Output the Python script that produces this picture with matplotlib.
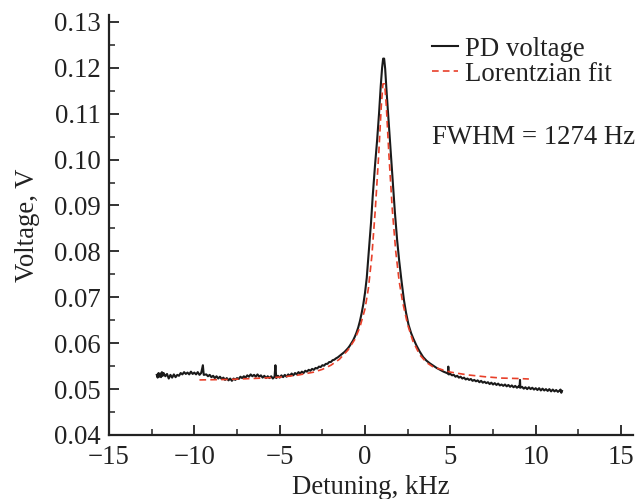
import matplotlib
matplotlib.use("Agg")
import matplotlib.pyplot as plt
from matplotlib.ticker import MultipleLocator, FormatStrFormatter

plt.rcParams['font.family'] = ['Liberation Serif', 'DejaVu Serif']

pd_x = [-12.2, -12.15, -12.1, -12.05, -12.0, -11.95, -11.9, -11.85, -11.8, -11.7, -11.6, -11.5, -11.4,
        -11.3, -11.2, -11.1, -11.0, -10.9, -10.8, -10.7, -10.6, -10.5, -10.4, -10.3, -10.2, -10.1,
        -10.0, -9.9, -9.8, -9.7, -9.6, -9.5, -9.45, -9.3, -9.2, -9.1, -9.0, -8.9, -8.8, -8.7, -8.6,
        -8.5, -8.4, -8.3, -8.2, -8.1, -8.0, -7.9, -7.8, -7.7, -7.6, -7.5, -7.4, -7.3, -7.2, -7.1,
        -7.0, -6.9, -6.8, -6.7, -6.6, -6.5, -6.4, -6.3, -6.2, -6.1, -6.0, -5.9, -5.8, -5.7, -5.6,
        -5.5, -5.4, -5.3, -5.25, -5.2, -5.1, -5.0, -4.9, -4.8, -4.7, -4.6, -4.5, -4.4, -4.3, -4.2,
        -4.1, -4.0, -3.9, -3.8, -3.7, -3.6, -3.5, -3.4, -3.3, -3.2, -3.1, -3.0, -2.9, -2.8, -2.7,
        -2.6, -2.5, -2.4, -2.3, -2.2, -2.1, -2.0, -1.9, -1.8, -1.7, -1.6, -1.5, -1.4, -1.3, -1.2,
        -1.1, -1.0, -0.9, -0.8, -0.7, -0.6, -0.5, -0.4, -0.3, -0.2, -0.1, 0.0, 0.1, 0.24, 0.35,
        0.45, 0.58, 0.71, 0.82, 0.92, 1.0, 1.06, 1.12, 1.18, 1.26, 1.36, 1.5, 1.62, 1.75, 1.88,
        2.0, 2.14, 2.28, 2.4, 2.55, 2.7, 2.83, 3.0, 3.2, 3.4, 3.6, 3.8, 4.0, 4.2, 4.4, 4.6, 4.8,
        4.86, 4.88, 4.9, 5.0, 5.1, 5.2, 5.3, 5.4, 5.5, 5.6, 5.7, 5.8, 5.9, 6.0, 6.1, 6.2, 6.3,
        6.4, 6.5, 6.6, 6.7, 6.8, 6.9, 7.0, 7.1, 7.2, 7.3, 7.4, 7.5, 7.6, 7.7, 7.8, 7.9, 8.0, 8.1,
        8.2, 8.3, 8.4, 8.5, 8.6, 8.7, 8.8, 8.9, 9.0, 9.05, 9.08, 9.1, 9.2, 9.3, 9.4, 9.5, 9.6,
        9.7, 9.8, 9.9, 10.0, 10.1, 10.2, 10.3, 10.4, 10.5, 10.6, 10.7, 10.8, 10.9, 11.0, 11.1,
        11.2, 11.3, 11.4, 11.45, 11.5, 11.54]
pd_y = [0.0531, 0.0525, 0.0535, 0.0527, 0.0534, 0.0526, 0.0537, 0.0529, 0.0535, 0.0528, 0.0533, 0.0523, 0.0531,
        0.0525, 0.0532, 0.0526, 0.0531, 0.0529, 0.0535, 0.0532, 0.0537, 0.0533, 0.0536, 0.0532, 0.0538, 0.0533,
        0.0536, 0.0532, 0.0537, 0.0531, 0.0535, 0.0552, 0.0531, 0.0532, 0.0528, 0.0531, 0.0526, 0.0529, 0.0524, 0.0528, 0.0523,
        0.0527, 0.0522, 0.0525, 0.0520, 0.0524, 0.0519, 0.0523, 0.0518, 0.0523, 0.0520, 0.0524, 0.0522, 0.0527, 0.0524, 0.0528,
        0.0525, 0.0530, 0.0527, 0.0532, 0.0528, 0.0531, 0.0527, 0.0532, 0.0527, 0.0530, 0.0525, 0.0529, 0.0524, 0.0528, 0.0524,
        0.0528, 0.0523, 0.0527, 0.0552, 0.0524, 0.0529, 0.0525, 0.0530, 0.0526, 0.0531, 0.0527, 0.0532, 0.0529, 0.0534, 0.0530,
        0.0535, 0.0532, 0.0537, 0.0534, 0.0538, 0.0535, 0.0540, 0.0538, 0.0542, 0.0540, 0.0544, 0.0542, 0.0546, 0.0545, 0.0549,
        0.0548, 0.0552, 0.0551, 0.0555, 0.0555, 0.0559, 0.0559, 0.0563, 0.0564, 0.0567, 0.0569, 0.0572, 0.0575, 0.0578, 0.0581,
        0.0585, 0.0589, 0.0594, 0.0600, 0.0606, 0.0614, 0.0623, 0.0634, 0.0648, 0.0665, 0.0685, 0.0710, 0.0742, 0.0810, 0.0862,
        0.0920, 0.0985, 0.1043, 0.1100, 0.1160, 0.1200, 0.1220, 0.1220, 0.1198, 0.1150, 0.1095, 0.1020, 0.0955, 0.0885, 0.0825,
        0.0780, 0.0735, 0.0694, 0.0667, 0.0640, 0.0622, 0.0610, 0.0596, 0.0582, 0.0570, 0.0562, 0.0556, 0.0551, 0.0546, 0.0542, 0.0538, 0.0535,
        0.0534, 0.0549, 0.0532, 0.0533, 0.0530, 0.0531, 0.0527, 0.0529, 0.0525, 0.0527, 0.0523, 0.0525, 0.0521, 0.0523, 0.0520, 0.0522, 0.0518,
        0.0520, 0.0517, 0.0519, 0.0515, 0.0518, 0.0514, 0.0516, 0.0513, 0.0515, 0.0511, 0.0514, 0.0510, 0.0513, 0.0509, 0.0512, 0.0508, 0.0510, 0.0507,
        0.0510, 0.0506, 0.0509, 0.0505, 0.0508, 0.0504, 0.0507, 0.0503, 0.0506, 0.0504, 0.0520, 0.0503, 0.0505, 0.0501, 0.0504, 0.0500, 0.0504,
        0.0500, 0.0503, 0.0499, 0.0502, 0.0498, 0.0502, 0.0497, 0.0501, 0.0497, 0.0500, 0.0496, 0.0500, 0.0495, 0.0499, 0.0495,
        0.0498, 0.0494, 0.0497, 0.0499, 0.0492, 0.0496]

# Lorentzian fit
fit_x = [-9.7, -8.0, -6.0, -5.0, -4.0, -3.0, -2.5, -2.0, -1.5, -1.0, -0.6, -0.3, 0.0, 0.2, 0.4, 0.6,
         0.8, 0.95, 1.05, 1.15, 1.25, 1.4, 1.6, 1.8, 2.0, 2.2, 2.5, 2.8, 3.2, 3.6, 4.0, 5.0, 6.0,
         7.0, 8.0, 9.0, 9.6]
fit_y = [0.0520, 0.0521, 0.0524, 0.0526, 0.0530, 0.0537, 0.0543, 0.0552, 0.0565, 0.0585, 0.0608, 0.0635, 0.0675, 0.0720, 0.0790, 0.0890,
         0.1010, 0.1115, 0.1165, 0.1165, 0.1115, 0.1010, 0.0890, 0.0800, 0.0735, 0.0690, 0.0640, 0.0605, 0.0575, 0.0558, 0.0548, 0.0537, 0.0531,
         0.0527, 0.0524, 0.0523, 0.0522]

x_ticks = [-15, -10, -5, 0, 5, 10, 15]
y_ticks = [0.04, 0.05, 0.06, 0.07, 0.08, 0.09, 0.10, 0.11, 0.12, 0.13]

FS = 19.3
INK = '#222222'

fig = plt.figure(figsize=(6.35, 4.99), dpi=100)
ax = fig.add_axes([109/635, 1-435/499, 524/635, 420/499])

ax.plot(pd_x, pd_y, color='#1a1a1a', lw=1.5, label='PD voltage', zorder=2)
ax.plot(fit_x, fit_y, color='#e8402a', lw=1.2, ls=(0, (4, 2.5)), label='Lorentzian fit', zorder=3)

ax.set_xlim(-15, 15.7)
ax.set_ylim(0.04, 0.1315)
ax.set_xticks(x_ticks)
ax.set_yticks(y_ticks)
ax.xaxis.set_minor_locator(MultipleLocator(2.5))
ax.yaxis.set_minor_locator(MultipleLocator(0.005))
ax.yaxis.set_major_formatter(FormatStrFormatter('%.2f'))
ax.tick_params(which='major', direction='in', length=7, width=1.3, labelsize=FS, color=INK, labelcolor=INK)
ax.tick_params(axis='y', which='major', pad=6)
ax.tick_params(axis='x', which='major', pad=7)
ax.tick_params(which='minor', direction='in', length=4, width=1.1, color=INK)
for s in ['top', 'right']:
    ax.spines[s].set_visible(False)
for s in ['left', 'bottom']:
    ax.spines[s].set_linewidth(1.6)
    ax.spines[s].set_color(INK)

ax.set_xlabel('Detuning, kHz', fontsize=FS, labelpad=4, color=INK)
ax.set_ylabel('Voltage, V', fontsize=FS, labelpad=10, color=INK)

leg = ax.legend(loc='upper left', bbox_to_anchor=(0.617, 0.948), frameon=False, fontsize=FS,
                handlelength=0.95, handletextpad=0.28, labelspacing=0.0, borderaxespad=0, borderpad=0)
for t in leg.get_texts():
    t.set_color(INK)
ax.text(0.616, 0.7095, 'FWHM = 1274 Hz', transform=ax.transAxes, fontsize=FS, color=INK,
        ha='left', va='center')

fig.savefig('out.png', dpi=100)
